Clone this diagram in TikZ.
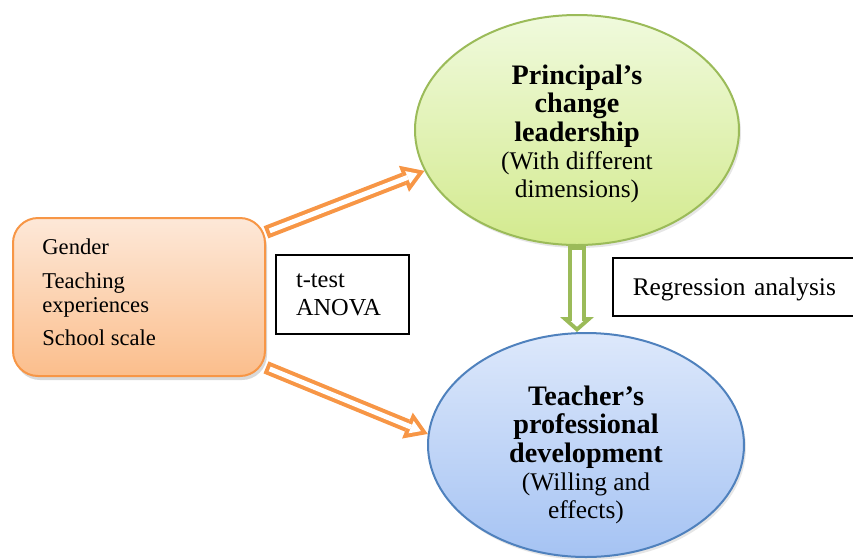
\documentclass[tikz,border=0pt]{standalone}
\usepackage{fontspec}
\setmainfont{Liberation Serif}
\usepackage{xcolor}
\usepackage{tikz}
\usetikzlibrary{arrows.meta}
\usetikzlibrary{calc}
\usetikzlibrary{shapes.geometric}
\usetikzlibrary{shadows}

\definecolor{orangeline}{HTML}{F79646}
\definecolor{orangetop}{HTML}{FDE8D8}
\definecolor{orangebottom}{HTML}{FBBE8C}
\definecolor{greenline}{HTML}{9BBB59}
\definecolor{greentop}{HTML}{F0FADD}
\definecolor{greenbottom}{HTML}{D3EA8E}
\definecolor{blueline}{HTML}{4F81BD}
\definecolor{bluetop}{HTML}{DDE8FB}
\definecolor{bluebottom}{HTML}{A5C3F3}

\newcommand{\bubblehead}[1]{{\bfseries\fontsize{14.1}{14.2}\selectfont #1}}

\tikzset{
  factorbox/.style = {draw = orangeline, line width = 1pt, rounded corners = 12.5pt,
    top color = orangetop, bottom color = orangebottom,
    minimum width = 126pt, minimum height = 79pt,
    drop shadow = {shadow xshift = 1pt, shadow yshift = -2pt, opacity = 0.3}},
  listtext/.style = {inner sep = 0pt, align = left,
    font = \fontsize{11.3}{12}\selectfont},
  bubble/.style = {ellipse, inner sep = 0pt, line width = 1pt,
    drop shadow = {shadow xshift = 1pt, shadow yshift = -1.5pt, opacity = 0.2}},
  bubbletext/.style = {inner sep = 0pt, align = center,
    font = \fontsize{12.7}{14.2}\selectfont},
  greenbubble/.style = {bubble, draw = greenline, top color = greentop,
    bottom color = greenbottom, minimum width = 162pt, minimum height = 115pt},
  bluebubble/.style = {bubble, draw = blueline, top color = bluetop,
    bottom color = bluebottom, minimum width = 158pt, minimum height = 112pt},
  labelbox/.style = {draw, line width = 0.75pt, align = left, fill = white,
    font = \fontsize{12.2}{14}\selectfont, minimum height = 39.5pt},
  hollowarrow/.style = {draw = orangeline, line width = 6.5pt,
    -{Triangle[length = 11pt, width = 14pt, line width = 0pt]},
    postaction = {draw = white, line width = 2.5pt, shorten < = 2pt,
      shorten > = 3.72pt, -{Triangle[length = 5.28pt, width = 6.72pt, line width = 0pt]}}},
  hollowdown/.style = {draw = greenline, line width = 9pt,
    -{Triangle[length = 7.5pt, width = 17pt, line width = 0pt]},
    postaction = {draw = white, line width = 5pt, shorten < = 2pt,
      shorten > = 2.67pt, -{Triangle[length = 2.83pt, width = 6.4pt, line width = 0pt]}}}
}

\begin{document}
\begin{tikzpicture}[x = 0.5pt, y = -0.5pt]

    \useasboundingbox (0, 0) rectangle (853, 559);

    \node [factorbox] (factors) at (139, 297) {};
    \node [listtext, anchor = north west] (factorlist) at (42, 238.5)
      {Gender\\[5pt]Teaching\\experiences\\[4.5pt]School scale};

    \node [greenbubble] (leader) at (577, 130) {};
    \node [bubbletext] (leadertext) at (577, 134)
      {\bubblehead{Principal’s}\\\bubblehead{change}\\\bubblehead{leadership}\\
       (With different\\dimensions)};

    \node [bluebubble] (teacher) at (586, 445) {};
    \node [bubbletext] (teachertext) at (586, 455)
      {\bubblehead{Teacher’s}\\\bubblehead{professional}\\\bubblehead{development}\\
       (Willing and\\effects)};

    \node [labelbox, text width = 46.5pt, inner xsep = 10pt] (tests)
      at (342.5, 294.5) {t-test\\ANOVA};
    \node [labelbox, anchor = west, text width = 120pt, inner xsep = 10pt,
      minimum height = 29pt, text depth = 0pt, font = \fontsize{12.7}{14}\selectfont]
      (regress) at (612, 287) {Regression analysis};

    \draw [hollowarrow] (factors.27) -- (leader.195);
    \draw [hollowarrow] (factors.-29) -- (teacher.176);
    \draw [hollowdown] (leader.south) -- (leader.south |- teacher.north);

\end{tikzpicture}
\end{document}
